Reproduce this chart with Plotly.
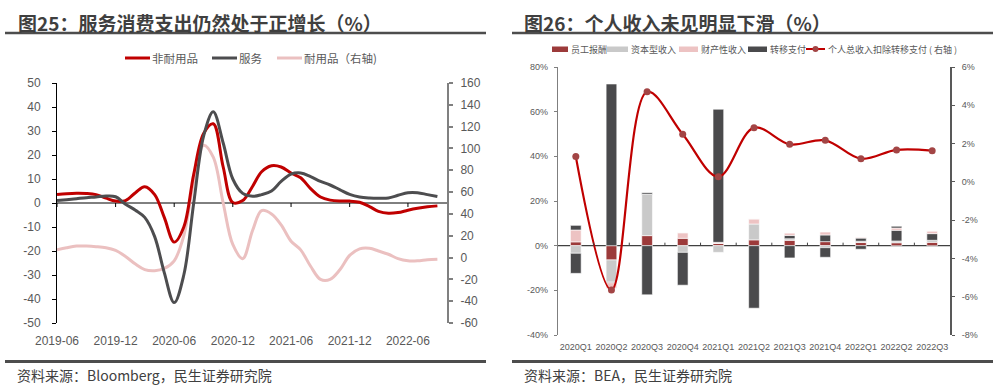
import pandas as pd
import plotly.graph_objects as go

# ---------------- data: left chart (monthly, %) ----------------
months = pd.date_range("2019-06-01", periods=40, freq="MS")
nondurables = [3.5, 3.9, 4.1, 4.0, 3.5, 2.0, 0.8, 1.0, 4.3, 6.8,
               3.5, -6.0, -16.3, -10.0, 12.0, 29.0, 33.0, 15.0, 0.2, 1.0,
               7.0, 13.0, 15.5, 15.0, 12.5, 10.5, 6.0, 2.5, 1.2, 0.8,
               0.8, 0.3, -1.5, -3.5, -4.3, -4.0, -3.0, -2.2, -1.6, -1.2]
services = [1.0, 1.4, 1.8, 2.2, 2.5, 2.9, 2.6, -0.5, -3.0, -6.0,
            -14.0, -29.0, -41.5, -30.0, 0.0, 28.0, 38.0, 25.0, 10.0, 4.0,
            2.8, 3.5, 5.0, 9.0, 12.0, 12.5, 11.0, 9.0, 7.5, 5.5,
            3.6, 2.5, 2.1, 2.0, 2.1, 3.2, 4.3, 4.3, 3.5, 2.7]
durables = [7, 9, 10.5, 10.5, 10, 9, 6.5, 1, -6, -11,
            -12, -10, -3, 20, 70, 103, 92, 50, 12, -1,
            25, 43, 40, 30, 15, 7, -8, -20, -20, -11,
            2, 8, 8.5, 6, 3, -1, -3, -3, -2, -1.5]
left_xticks = pd.date_range("2019-06-01", "2022-06-01", freq="6MS")
left_yticks = list(range(-50, 51, 10))
left_y2ticks = list(range(-60, 161, 20))
left_names = ["非耐用品", "服务", "耐用品（右轴)"]

# ---------------- data: right chart (quarterly, %) ----------------
quarters = ["2020Q1", "2020Q2", "2020Q3", "2020Q4", "2021Q1", "2021Q2",
            "2021Q3", "2021Q4", "2022Q1", "2022Q2", "2022Q3"]
compensation = [1.7, -6.4, 4.5, 3.3, 1.0, 2.6, 2.4, 1.8, 1.4, 1.3, 1.5]
capital_income = [-3.4, -9.7, 18.5, -3.0, -3.0, 7.1, 0.7, -0.9, 0.6, 0.8, 0.9]
other_items = [-9.0, -0.5, -22.0, -14.7, 0.0, -28.0, 1.5, 3.0, 1.4, 4.8, 3.0]
property_income = [5.3, -2.5, 0.0, 2.5, 0.5, 2.3, 1.0, 1.3, 0.3, 1.0, 1.2]
transfers = [2.1, 72.4, 0.7, 0.0, 59.6, 0.0, -5.5, -4.3, -1.6, 0.8, 0.0]
income_ex_transfer = [1.32, -5.65, 4.71, 2.49, 0.27, 2.83, 1.96, 2.17, 1.21, 1.67, 1.63]
right_yticks = list(range(-40, 81, 20))
right_y2ticks = list(range(-8, 7, 2))
right_names = ["员工报酬", "资本型收入", "财产性收入", "转移支付",
               "个人总收入扣除转移支付 ( 右轴 )"]

# ---------------- styling ----------------
W, H = 1008, 388
FONT = "Liberation Sans, Arial, Noto Sans CJK SC, sans-serif"
CJK = "Noto Sans CJK SC, Liberation Sans, sans-serif"
TICK_C = "#595959"
RED = "#C00000"
DGRAY = "#4D4D4F"
PINK = "#EBC0C0"
BAR_RED = "#9C3A3A"
BAR_LGRAY = "#C9C9C9"
BAR_PINK = "#EDC3C3"
BAR_DGRAY = "#4A4A4C"


def fx(px):
    return px / W


def fy(py):
    return 1 - py / H


L_DX = [fx(57), fx(447)]
L_DY = [fy(323), fy(83)]
R_DX = [fx(558), fx(950)]
R_DY = [fy(335), fy(67)]

fig = go.Figure()

# left chart
fig.add_trace(go.Scatter(
    x=months, y=durables, name=left_names[2], mode="lines",
    line=dict(color=PINK, width=3, shape="spline", smoothing=1),
    xaxis="x", yaxis="y"))
fig.add_trace(go.Scatter(
    x=months, y=nondurables, name=left_names[0], mode="lines",
    line=dict(color=RED, width=3, shape="spline", smoothing=1),
    xaxis="x", yaxis="y2"))
fig.add_trace(go.Scatter(
    x=months, y=services, name=left_names[1], mode="lines",
    line=dict(color=DGRAY, width=3, shape="spline", smoothing=1),
    xaxis="x", yaxis="y2"))

# right chart
bar_common = dict(xaxis="x2", yaxis="y3", width=0.3)
fig.add_trace(go.Bar(x=quarters, y=compensation, name=right_names[0],
                     marker=dict(color=BAR_RED, line=dict(color="white", width=0.6)),
                     **bar_common))
fig.add_trace(go.Bar(x=quarters, y=capital_income, name=right_names[1],
                     marker=dict(color=BAR_LGRAY, line=dict(color="white", width=0.6)),
                     **bar_common))
fig.add_trace(go.Bar(x=quarters, y=other_items, name="其他",
                     marker=dict(color=BAR_DGRAY, line=dict(color="white", width=0.6)),
                     **bar_common))
fig.add_trace(go.Bar(x=quarters, y=property_income, name=right_names[2],
                     marker=dict(color=BAR_PINK, line=dict(color="white", width=0.6)),
                     **bar_common))
fig.add_trace(go.Bar(x=quarters, y=transfers, name=right_names[3],
                     marker=dict(color=BAR_DGRAY, line=dict(color="white", width=0.6)),
                     **bar_common))
fig.add_trace(go.Scatter(
    x=quarters, y=income_ex_transfer, name=right_names[4],
    mode="lines+markers",
    line=dict(color=RED, width=2.2, shape="spline", smoothing=1),
    marker=dict(color="#A34545", size=7),
    xaxis="x2", yaxis="y4"))

tickfont_l = dict(family=FONT, size=12, color=TICK_C)
tickfont_r = dict(family=FONT, size=9, color=TICK_C)

layout = dict(
    width=W, height=H,
    margin=dict(l=0, r=0, t=0, b=0, autoexpand=False),
    paper_bgcolor="white", plot_bgcolor="rgba(0,0,0,0)",
    font=dict(family=FONT, color=TICK_C),
    barmode="relative",
    showlegend=False,
    xaxis=dict(domain=L_DX, anchor="y", type="date",
               range=["2019-06-01", "2022-10-01"],
               tickvals=list(left_xticks),
               ticktext=[d.strftime("%Y-%m") for d in left_xticks],
               showline=False, ticks="", showgrid=False, zeroline=False,
               tickfont=tickfont_l, ticklabelstandoff=9),
    yaxis=dict(domain=L_DY, anchor="x", side="right", range=[-60, 160],
               tickvals=left_y2ticks, ticktext=[str(v) for v in left_y2ticks],
               showline=True, linecolor="#808080", linewidth=2,
               ticks="outside", ticklen=4, tickcolor="#808080", tickwidth=1.5,
               showgrid=False, zeroline=False, tickfont=tickfont_l,
               ticklabelstandoff=5),
    yaxis2=dict(overlaying="y", anchor="x", side="left", range=[-50, 50],
                tickvals=left_yticks, ticktext=[str(v) for v in left_yticks],
                showline=True, linecolor="black", linewidth=1,
                ticks="outside", ticklen=4, tickcolor="black",
                showgrid=False, zeroline=False, tickfont=tickfont_l,
                ticklabelstandoff=9),
    xaxis2=dict(domain=R_DX, anchor="y3", type="category",
                range=[-0.5, len(quarters) - 0.5],
                showline=False, ticks="", showgrid=False, zeroline=False,
                tickfont=tickfont_r, ticklabelstandoff=5),
    yaxis3=dict(domain=R_DY, anchor="x2", side="left", range=[-40, 80],
                tickvals=right_yticks, ticktext=[f"{v}%" for v in right_yticks],
                showline=True, linecolor="#7F7F7F", linewidth=1.2,
                ticks="outside", ticklen=3, tickcolor="#7F7F7F",
                showgrid=False, zeroline=False, tickfont=tickfont_r,
                ticklabelstandoff=4),
    yaxis4=dict(overlaying="y3", anchor="x2", side="right", range=[-8, 6],
                tickvals=right_y2ticks, ticktext=[f"{v}%" for v in right_y2ticks],
                showline=True, linecolor="#595959", linewidth=2,
                ticks="outside", ticklen=3, tickcolor="#595959",
                showgrid=False, zeroline=False, tickfont=tickfont_r,
                ticklabelstandoff=5),
)
fig.update_layout(**layout)

shapes = []
annotations = []

# zero lines acting as category/date axes
shapes.append(dict(type="line", xref="x domain", x0=0, x1=1, yref="y2", y0=0, y1=0,
                   line=dict(color="black", width=1), layer="below"))
for d in left_xticks:
    shapes.append(dict(type="line", xref="x", x0=d, x1=d, yref="y2",
                       ysizemode="pixel", yanchor=0, y0=0, y1=-4,
                       line=dict(color="black", width=1)))
shapes.append(dict(type="line", xref="x2 domain", x0=0, x1=1, yref="y3", y0=0, y1=0,
                   line=dict(color="#404040", width=1.3), layer="below"))
for i in range(len(quarters) - 1):
    shapes.append(dict(type="line", xref="x2", x0=i + 0.5, x1=i + 0.5, yref="y3",
                       ysizemode="pixel", yanchor=0, y0=0, y1=3,
                       line=dict(color="#404040", width=1)))
# title underlines and footer rules
for x0, x1 in [(fx(5), fx(486)), (fx(512), fx(993))]:
    shapes.append(dict(type="line", xref="paper", yref="paper", x0=x0, x1=x1,
                       y0=fy(33), y1=fy(33), line=dict(color="#4D4D4D", width=2.5)))
    shapes.append(dict(type="line", xref="paper", yref="paper", x0=x0, x1=x1,
                       y0=fy(361.5), y1=fy(361.5), line=dict(color="#4D4D4D", width=3)))


def legend_text(text, x_px, y_px, size):
    return dict(text=text, x=fx(x_px), y=fy(y_px), xref="paper", yref="paper",
                xanchor="left", yanchor="middle", showarrow=False, borderpad=0,
                font=dict(family=CJK, size=size, color=TICK_C))


# left legend (line swatches)
for name, color, (x0, x1) in zip(left_names, [RED, DGRAY, PINK],
                                 [(125, 150), (212, 237), (277, 302)]):
    shapes.append(dict(type="line", xref="paper", yref="paper", x0=fx(x0), x1=fx(x1),
                       y0=fy(58), y1=fy(58), line=dict(color=color, width=3)))
    annotations.append(legend_text(name, x1 + 1, 58, 11.5))

# right legend (bar swatches + line swatch)
for name, color, (x0, x1) in zip(right_names[:4], [BAR_RED, BAR_LGRAY, BAR_PINK, BAR_DGRAY],
                                 [(552, 568), (607, 628), (679, 698), (748, 767)]):
    shapes.append(dict(type="rect", xref="paper", yref="paper", x0=fx(x0), x1=fx(x1),
                       y0=fy(52), y1=fy(46.5), line=dict(width=0), fillcolor=color))
    annotations.append(legend_text(name, x1 + 2, 49, 9))
shapes.append(dict(type="line", xref="paper", yref="paper", x0=fx(806), x1=fx(825),
                   y0=fy(49), y1=fy(49), line=dict(color=RED, width=2)))
shapes.append(dict(type="circle", xref="paper", yref="paper", x0=fx(812.5), x1=fx(818.5),
                   y0=fy(52), y1=fy(46), line=dict(width=0), fillcolor="#A34545"))
annotations.append(legend_text(right_names[4], 827, 49, 9))

annotations += [
    dict(text="<b>图25：服务消费支出仍然处于正增长（%）</b>", x=fx(16), y=fy(22),
         xref="paper", yref="paper", xanchor="left", yanchor="middle", showarrow=False,
         font=dict(family=CJK, size=19, color="#3F3F3F")),
    dict(text="<b>图26：个人收入未见明显下滑（%）</b>", x=fx(522), y=fy(22),
         xref="paper", yref="paper", xanchor="left", yanchor="middle", showarrow=False,
         font=dict(family=CJK, size=19, color="#3F3F3F")),
    dict(text="资料来源：Bloomberg，民生证券研究院", x=fx(15), y=fy(375),
         xref="paper", yref="paper", xanchor="left", yanchor="middle", showarrow=False,
         font=dict(family=CJK, size=14, color="#404040")),
    dict(text="资料来源：BEA，民生证券研究院", x=fx(522), y=fy(375),
         xref="paper", yref="paper", xanchor="left", yanchor="middle", showarrow=False,
         font=dict(family=CJK, size=14, color="#404040")),
]
fig.update_layout(shapes=shapes, annotations=annotations)

fig.write_html(
    "out.html",
    config={"displayModeBar": False},
    post_script="document.documentElement.style.margin='0';"
                "document.body.style.margin='0';document.body.style.padding='0';"
                "document.body.style.overflow='hidden';",
)
